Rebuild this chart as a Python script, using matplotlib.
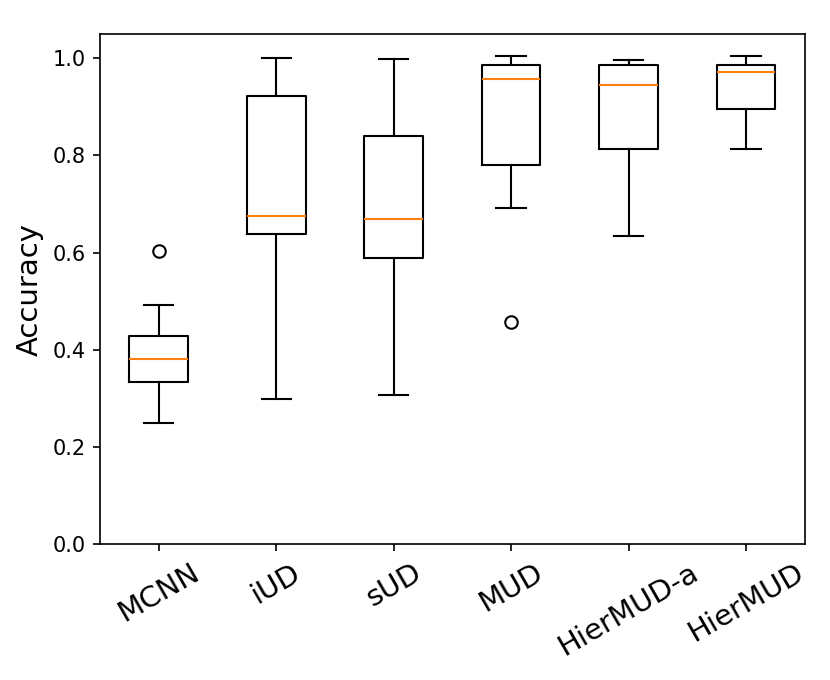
import matplotlib
matplotlib.use("Agg")
import matplotlib.pyplot as plt

methods = ["MCNN", "iUD", "sUD", "MUD", "HierMUD-a", "HierMUD"]
whislo = [0.249, 0.298, 0.306, 0.691, 0.635, 0.813]
q1 = [0.334, 0.638, 0.589, 0.780, 0.813, 0.896]
med = [0.380, 0.676, 0.670, 0.957, 0.946, 0.972]
q3 = [0.428, 0.923, 0.841, 0.986, 0.987, 0.986]
whishi = [0.492, 1.000, 0.999, 1.004, 0.997, 1.004]
fliers = [[0.604], [], [], [0.458], [], []]

stats = []
for i in range(len(methods)):
    stats.append({'label': methods[i], 'whislo': whislo[i], 'q1': q1[i], 'med': med[i],
                  'q3': q3[i], 'whishi': whishi[i], 'fliers': fliers[i]})

fig = plt.figure(figsize=(830 / 150, 680 / 150), dpi=150)
ax = fig.add_axes([0.1205, 0.2, 0.849, 0.75])
ax.bxp(stats, showfliers=True)
ax.set_ylim(0, 1.05)
ax.set_ylabel("Accuracy", fontsize=14)
plt.xticks(rotation=30, fontsize=14)

fig.savefig("out.png", dpi=150)
